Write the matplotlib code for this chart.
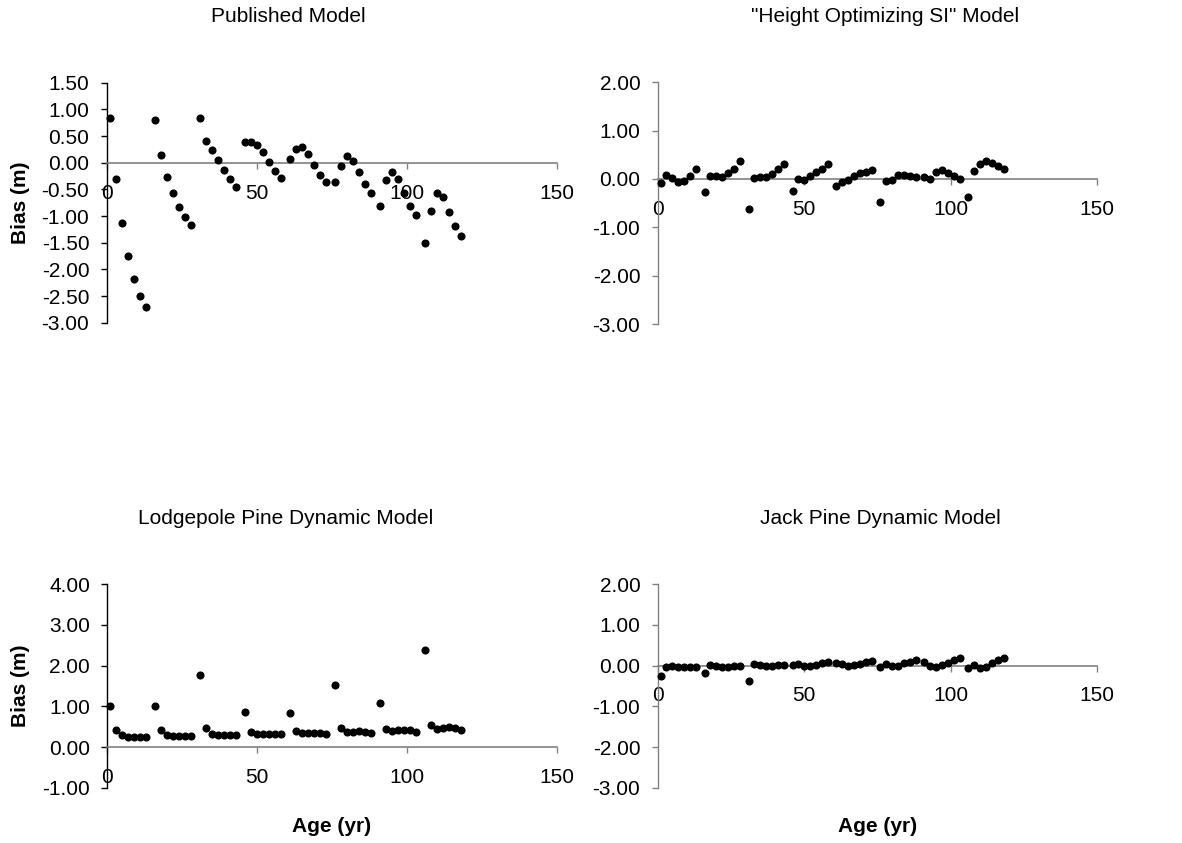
import matplotlib
matplotlib.use("Agg")
import matplotlib.pyplot as plt
from matplotlib.ticker import FormatStrFormatter

plt.rcParams['font.family'] = ['Liberation Sans', 'DejaVu Sans']
plt.rcParams['axes.unicode_minus'] = False

ages = [1, 3, 5, 7, 9, 11, 13, 16, 18, 20, 22, 24, 26, 28,
        31, 33, 35, 37, 39, 41, 43, 46, 48, 50, 52, 54, 56, 58,
        61, 63, 65, 67, 69, 71, 73, 76, 78, 80, 82, 84, 86, 88,
        91, 93, 95, 97, 99, 101, 103, 106, 108, 110, 112, 114, 116, 118]

published = [0.84, -0.31, -1.13, -1.74, -2.18, -2.50, -2.71,
             0.80, 0.15, -0.26, -0.575, -0.83, -1.025, -1.16,
             0.84, 0.41, 0.23, 0.05, -0.14, -0.31, -0.46,
             0.38, 0.38, 0.34, 0.20, 0.01, -0.16, -0.29,
             0.075, 0.25, 0.30, 0.17, -0.04, -0.23, -0.37,
             -0.37, -0.06, 0.125, 0.04, -0.18, -0.40, -0.575,
             -0.81, -0.325, -0.175, -0.31, -0.56, -0.81, -0.975,
             -1.50, -0.91, -0.56, -0.64, -0.92, -1.18, -1.38]

height_opt = [-0.076, 0.076, 0.014, -0.06, -0.05, 0.055, 0.20,
              -0.27, 0.07, 0.07, 0.04, 0.12, 0.21, 0.37,
              -0.62, 0.03, 0.04, 0.04, 0.11, 0.21, 0.32,
              -0.25, 0.0, -0.014, 0.055, 0.14, 0.21, 0.30,
              -0.15, -0.055, -0.02, 0.06, 0.12, 0.15, 0.19,
              -0.48, -0.04, -0.014, 0.08, 0.09, 0.07, 0.04,
              0.05, 0.0, 0.145, 0.18, 0.12, 0.055, 0.007,
              -0.37, 0.17, 0.32, 0.37, 0.33, 0.27, 0.21]

lodgepole = [1.01, 0.41, 0.30, 0.25, 0.25, 0.25, 0.25,
             1.01, 0.41, 0.30, 0.27, 0.27, 0.27, 0.27,
             1.77, 0.475, 0.31, 0.30, 0.30, 0.30, 0.30,
             0.85, 0.38, 0.31, 0.31, 0.32, 0.32, 0.31,
             0.84, 0.385, 0.34, 0.35, 0.35, 0.35, 0.33,
             1.52, 0.475, 0.36, 0.37, 0.385, 0.38, 0.35,
             1.08, 0.44, 0.39, 0.42, 0.43, 0.41, 0.38,
             2.38, 0.55, 0.44, 0.46, 0.48, 0.475, 0.43]

jack_pine = [-0.25, -0.03, -0.016, -0.025, -0.03, -0.03, -0.025,
             -0.17, 0.008, 0.0, -0.025, -0.025, -0.008, 0.0,
             -0.385, 0.03, 0.008, -0.008, -0.008, 0.008, 0.025,
             0.008, 0.03, -0.008, 0.0, 0.025, 0.057, 0.09,
             0.057, 0.03, -0.008, 0.008, 0.05, 0.09, 0.12,
             -0.025, 0.04, -0.016, 0.0, 0.057, 0.09, 0.14,
             0.09, 0.0, -0.03, 0.008, 0.065, 0.13, 0.18,
             -0.065, 0.025, -0.057, -0.025, 0.065, 0.14, 0.20]

titles = ["Published Model", '"Height Optimizing SI" Model',
          "Lodgepole Pine Dynamic Model", "Jack Pine Dynamic Model"]
x_ticks = [0, 50, 100, 150]
y_ticks_list = [[1.5, 1.0, 0.5, 0.0, -0.5, -1.0, -1.5, -2.0, -2.5, -3.0],
                [2.0, 1.0, 0.0, -1.0, -2.0, -3.0],
                [4.0, 3.0, 2.0, 1.0, 0.0, -1.0],
                [2.0, 1.0, 0.0, -1.0, -2.0, -3.0]]
series = [published, height_opt, lodgepole, jack_pine]

W, H = 1182, 843
fig = plt.figure(figsize=(W / 100, H / 100), dpi=100)

# pixel boxes: left, right, top, bottom
boxes = [(106.7, 556.7, 82.7, 322.7),
         (657.7, 1097.3, 82.3, 324.0),
         (107.3, 557.0, 584.3, 787.7),
         (657.7, 1097.3, 584.3, 787.7)]
left_colors = ['black', '#808080', 'black', '#808080']
title_pos = [(288, 16), (885, 16), (286, 518), (880, 518)]
FS = 15

for i in range(4):
    l, r, t, b = boxes[i]
    ax = fig.add_axes([l / W, 1 - b / H, (r - l) / W, (b - t) / H])
    ax.scatter(ages, series[i], s=34, color='black', zorder=3, linewidths=0,
               clip_on=False)
    yt = y_ticks_list[i]
    ax.set_xlim(0, 150)
    ax.set_ylim(min(yt), max(yt))
    ax.set_xticks(x_ticks)
    ax.set_yticks(yt)
    ax.yaxis.set_major_formatter(FormatStrFormatter('%.2f'))
    ax.spines['top'].set_visible(False)
    ax.spines['right'].set_visible(False)
    ax.spines['bottom'].set_position(('data', 0))
    ax.spines['bottom'].set_color('#808080')
    ax.spines['bottom'].set_linewidth(1.2)
    ax.spines['left'].set_color(left_colors[i])
    ax.spines['left'].set_linewidth(1.0)
    ax.tick_params(axis='y', direction='out', length=4.5, width=1.0,
                   color=left_colors[i], pad=8, labelsize=FS)
    ax.tick_params(axis='x', direction='out', length=4, width=1.0,
                   color='#808080', pad=11, labelsize=FS)
    ax.patch.set_alpha(0)
    fig.text(title_pos[i][0] / W, 1 - title_pos[i][1] / H, titles[i],
             ha='center', va='center', fontsize=FS)

fig.text(20 / W, 1 - 202.7 / H, "Bias (m)", rotation=90, ha='center',
         va='center', fontsize=FS, fontweight='bold')
fig.text(20 / W, 1 - 686 / H, "Bias (m)", rotation=90, ha='center',
         va='center', fontsize=FS, fontweight='bold')
fig.text(332 / W, 1 - 826 / H, "Age (yr)", ha='center', va='center',
         fontsize=FS, fontweight='bold')
fig.text(877.5 / W, 1 - 826 / H, "Age (yr)", ha='center', va='center',
         fontsize=FS, fontweight='bold')

fig.savefig("out.png", dpi=100, facecolor='white')
